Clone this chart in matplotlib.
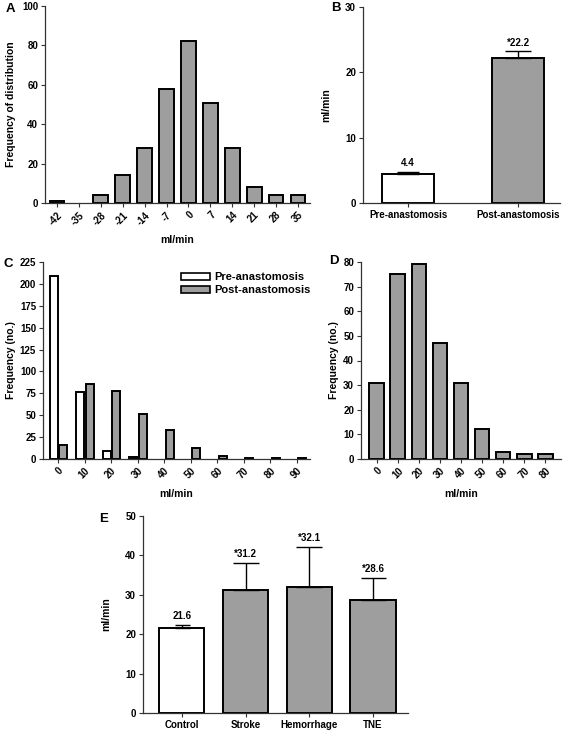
import numpy as np
import matplotlib
matplotlib.use("Agg")
import matplotlib.pyplot as plt
from matplotlib.patches import Patch

plt.rcParams['font.family'] = ['Liberation Sans', 'DejaVu Sans']
plt.rcParams['font.weight'] = 'bold'
plt.rcParams['axes.labelweight'] = 'bold'

# ---- data ----
# A : distribution of flow difference
a_bins = ['-42', '-35', '-28', '-21', '-14', '-7', '0', '7', '14', '21', '28', '35']
a_freq = [1, 0, 4, 14, 28, 58, 82, 51, 28, 8, 4, 4]

# B : mean flow before / after anastomosis
b_groups = ['Pre-anastomosis', 'Post-anastomosis']
b_means = [4.4, 22.2]
b_err = [0.3, 1.0]
b_text = ['4.4', '*22.2']

# C : histogram pre / post
c_bins = [0, 10, 20, 30, 40, 50, 60, 70, 80, 90]
c_pre = [209, 76, 9, 2, 0, 0, 0, 0, 0, 0]
c_post = [16, 86, 78, 51, 33, 12, 3, 1, 1, 1]

# D : histogram
d_bins = ['0', '10', '20', '30', '40', '50', '60', '70', '80']
d_freq = [31, 75, 79, 47, 31, 12, 3, 2, 2]

# E : flow per group
e_groups = ['Control', 'Stroke', 'Hemorrhage', 'TNE']
e_means = [21.6, 31.2, 32.1, 28.6]
e_err = [0.7, 6.8, 10.1, 5.7]
e_text = ['21.6', '*31.2', '*32.1', '*28.6']

GREY = '#9e9e9e'
W, H = 563, 730
fig = plt.figure(figsize=(W / 100, H / 100), dpi=100)


def make_ax(x0, x1, ytop, ybot):
    # position given in pixels of the final picture
    ax = fig.add_axes([x0 / W, 1 - ybot / H, (x1 - x0) / W, (ybot - ytop) / H])
    for s in ['top', 'right']:
        ax.spines[s].set_visible(False)
    for s in ['left', 'bottom']:
        ax.spines[s].set_color('#333333')
        ax.spines[s].set_linewidth(0.9)
    ax.tick_params(direction='out', length=3, width=0.8, color='#333333',
                   labelsize=7, pad=2)
    return ax


def letter(x, y, s):
    fig.text(x / W, 1 - y / H, s, fontsize=9.5, fontweight='bold', ha='left', va='center')


# ---- A ----
ax = make_ax(45, 310, 6, 203)
xa = np.arange(len(a_freq))
fa = np.array(a_freq)
ax.bar(xa[fa > 0], fa[fa > 0], width=0.68, color=GREY, edgecolor='black', linewidth=1.4)
ax.set_xlim(-0.55, len(a_freq) - 0.45)
ax.set_ylim(0, 100)
ax.set_yticks(range(0, 101, 20))
ax.set_xticks(xa)
ax.set_xticklabels(a_bins, rotation=45, ha='right', rotation_mode='anchor')
ax.set_ylabel('Frequency of distribution', fontsize=7.5, labelpad=4)
ax.set_xlabel('ml/min', fontsize=7.5, labelpad=6)
letter(6, 9, 'A')

# ---- B ----
ax = make_ax(363, 560, 7, 203)
xb = np.arange(len(b_means))
ax.bar(xb, b_means, width=0.47, color=['white', GREY], edgecolor='black', linewidth=1.4)
caps = [8, 9.7]
for i in range(len(b_means)):
    ax.errorbar(xb[i], b_means[i], yerr=[[0], [b_err[i]]], fmt='none', ecolor='black',
                elinewidth=1, capsize=caps[i], capthick=1)
    ax.text(xb[i], b_means[i] + b_err[i] + 0.6, b_text[i], ha='center', va='bottom', fontsize=7)
ax.set_xlim(-0.41, 1.38)
ax.set_ylim(0, 30)
ax.set_yticks([0, 10, 20, 30])
ax.set_xticks(xb)
ax.set_xticklabels(b_groups)
ax.set_ylabel('ml/min', fontsize=7.5, labelpad=10)
letter(331, 8, 'B')

# ---- C ----
ax = make_ax(43, 310, 262, 459)
cb = np.array(c_bins)
pre = np.array(c_pre)
post = np.array(c_post)
m = pre > 0
ax.bar(cb[m] - 1.6, pre[m], width=3.0, color='white', edgecolor='black', linewidth=1.4)
ax.bar(cb + 2.0, post, width=3.0, color=GREY, edgecolor='black', linewidth=1.4)
ax.set_xlim(-5.65, 94.9)
ax.set_ylim(0, 225)
ax.set_yticks(range(0, 226, 25))
ax.set_xticks(cb)
ax.set_xticklabels([str(v) for v in c_bins], rotation=45, ha='right', rotation_mode='anchor')
ax.set_ylabel('Frequency (no.)', fontsize=7.5, labelpad=3)
ax.set_xlabel('ml/min', fontsize=7.5, labelpad=6)
handles = [Patch(facecolor='white', edgecolor='black', linewidth=1.2, label='Pre-anastomosis'),
           Patch(facecolor=GREY, edgecolor='black', linewidth=1.2, label='Post-anastomosis')]
ax.legend(handles=handles, loc='upper left', bbox_to_anchor=(0.5, 0.97), frameon=False,
          fontsize=8, handlelength=2.6, handleheight=0.6, handletextpad=0.4,
          labelspacing=0.25, borderaxespad=0)
letter(4, 264, 'C')

# ---- D ----
ax = make_ax(361, 561, 262, 459)
xd = np.arange(len(d_freq))
ax.bar(xd, d_freq, width=0.7, color=GREY, edgecolor='black', linewidth=1.4)
ax.set_xlim(-0.75, len(d_freq) - 0.25)
ax.set_ylim(0, 80)
ax.set_yticks(range(0, 81, 10))
ax.set_xticks(xd)
ax.set_xticklabels(d_bins, rotation=45, ha='right', rotation_mode='anchor')
ax.set_ylabel('Frequency (no.)', fontsize=7.5, labelpad=3)
ax.set_xlabel('ml/min', fontsize=7.5, labelpad=6)
letter(329, 261, 'D')

# ---- E ----
ax = make_ax(143, 408, 516, 713)
xe = np.arange(len(e_means))
ax.bar(xe, e_means, width=0.71, color=['white', GREY, GREY, GREY], edgecolor='black', linewidth=1.4)
caps = [5.4, 9.4, 9.7, 9.0]
for i in range(len(e_means)):
    ax.errorbar(xe[i], e_means[i], yerr=[[0], [e_err[i]]], fmt='none', ecolor='black',
                elinewidth=1, capsize=caps[i], capthick=1)
    ax.text(xe[i], e_means[i] + e_err[i] + 1.0, e_text[i], ha='center', va='bottom', fontsize=7)
ax.set_xlim(-0.61, 3.55)
ax.set_ylim(0, 50)
ax.set_yticks(range(0, 51, 10))
ax.set_xticks(xe)
ax.set_xticklabels(e_groups)
ax.set_ylabel('ml/min', fontsize=7.5, labelpad=10)
letter(99, 519, 'E')

fig.savefig('out.png', dpi=100)
